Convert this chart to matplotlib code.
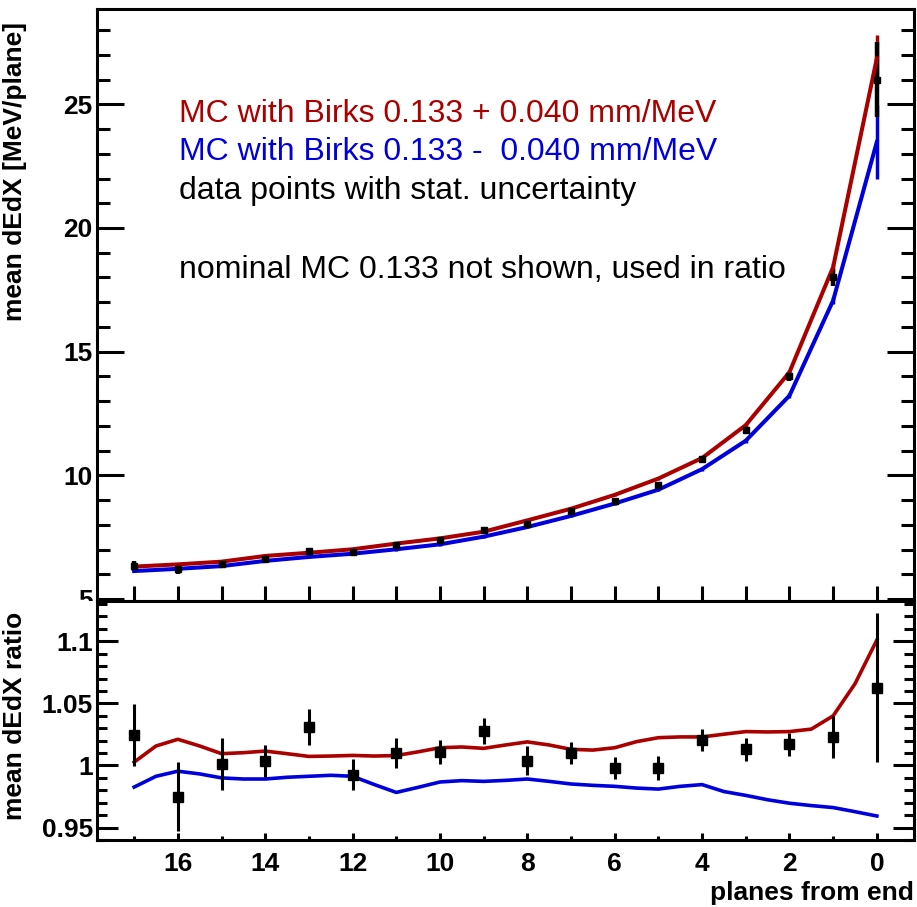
import numpy as np
import matplotlib.pyplot as plt
from matplotlib.ticker import MultipleLocator
from matplotlib.patches import Rectangle

plt.rcParams['font.family'] = ['Liberation Sans', 'DejaVu Sans']

# planes from end (top panel points)
planes = [17, 16, 15, 14, 13, 12, 11, 10, 9, 8, 7, 6, 5, 4, 3, 2, 1, 0]

# mean dEdX [MeV/plane]
mc_plus = [6.31, 6.40, 6.51, 6.74, 6.87, 7.01, 7.24, 7.45, 7.72, 8.18, 8.65, 9.21, 9.87, 10.70, 12.03, 14.17, 18.42, 26.86]
mc_plus_err = [0.05, 0.05, 0.05, 0.05, 0.05, 0.05, 0.05, 0.05, 0.05, 0.05, 0.05, 0.05, 0.06, 0.06, 0.08, 0.10, 0.15, 0.95]
mc_minus = [6.13, 6.22, 6.33, 6.54, 6.70, 6.83, 7.01, 7.21, 7.52, 7.91, 8.36, 8.86, 9.42, 10.25, 11.40, 13.22, 17.07, 23.48]
mc_minus_err = [0.05, 0.05, 0.05, 0.05, 0.05, 0.05, 0.05, 0.05, 0.05, 0.05, 0.05, 0.05, 0.06, 0.06, 0.08, 0.10, 0.15, 1.48]
data = [6.35, 6.22, 6.42, 6.62, 6.95, 6.88, 7.20, 7.40, 7.78, 8.05, 8.55, 8.98, 9.60, 10.68, 11.85, 14.00, 18.00, 26.00]
data_err = [0.20, 0.20, 0.15, 0.10, 0.12, 0.09, 0.09, 0.08, 0.09, 0.10, 0.09, 0.08, 0.10, 0.10, 0.11, 0.18, 0.35, 1.50]

# ratio panel: curves read every half plane
ratio_x = [17, 16.5, 16, 15.5, 15, 14.5, 14, 13.5, 13, 12.5, 12, 11.5, 11, 10.5, 10, 9.5, 9, 8.5,
           8, 7.5, 7, 6.5, 6, 5.5, 5, 4.5, 4, 3.5, 3, 2.5, 2, 1.5, 1, 0.5, 0]
ratio_plus = [1.0027, 1.0157, 1.0211, 1.0157, 1.0095, 1.0103, 1.0116, 1.0095, 1.0073, 1.0076, 1.0081, 1.0076,
              1.0080, 1.0110, 1.0143, 1.0149, 1.0138, 1.0165, 1.0190, 1.0165, 1.0130, 1.0124, 1.0143, 1.0192,
              1.0224, 1.0230, 1.0230, 1.0252, 1.0273, 1.0270, 1.0273, 1.0293, 1.0400, 1.0658, 1.1010]
ratio_minus = [0.9826, 0.9913, 0.9954, 0.9932, 0.9900, 0.9891, 0.9891, 0.9905, 0.9913, 0.9921, 0.9913, 0.9846,
               0.9783, 0.9824, 0.9867, 0.9878, 0.9872, 0.9880, 0.9891, 0.9872, 0.9851, 0.9840, 0.9832, 0.9818,
               0.9810, 0.9832, 0.9846, 0.9790, 0.9759, 0.9724, 0.9696, 0.9677, 0.9661, 0.9628, 0.9593]
data_ratio = [1.0244, 0.975, 1.0013, 1.0035, 1.031, 0.9927, 1.0102, 1.0108, 1.0279, 1.004, 1.0098, 0.998,
              0.998, 1.0206, 1.013, 1.017, 1.023, 1.0626]
data_ratio_err = [0.025, 0.028, 0.021, 0.013, 0.0145, 0.0125, 0.012, 0.010, 0.0105, 0.012, 0.009, 0.0087,
                  0.0095, 0.009, 0.009, 0.009, 0.017, 0.060]

top_yticks = [5, 10, 15, 20, 25]
ratio_yticks = [0.95, 1.0, 1.05, 1.1]
ratio_ylabels = ['0.95', '1', '1.05', '1.1']
xticks = [16, 14, 12, 10, 8, 6, 4, 2, 0]

red = '#aa0000'
blue = '#0000dd'

fig = plt.figure(figsize=(9.17, 9.07), dpi=100)
ax1 = fig.add_axes([0.1058, 0.3374, 0.8909, 0.6526])
ax2 = fig.add_axes([0.1058, 0.0739, 0.8909, 0.2635])
ax2.set_zorder(2)
# ratio pad covers the lower part of the figure, like in the original
fig.add_artist(Rectangle((0, 0), 1, 0.3374, transform=fig.transFigure,
                         facecolor='white', edgecolor='none', zorder=1))

# top panel
ax1.errorbar(planes, mc_plus, yerr=mc_plus_err, color=red, lw=2.9, elinewidth=2.5, capsize=0)
ax1.errorbar(planes, mc_minus, yerr=mc_minus_err, color=blue, lw=2.9, elinewidth=2.5, capsize=0)
ax1.errorbar(planes, data, yerr=data_err, fmt='s', ms=4, color='k', elinewidth=3.2, capsize=0)

ax1.set_xlim(17.85, -0.85)
ax1.set_ylim(4.92, 28.85)
ax1.set_yticks(top_yticks)
ax1.set_yticklabels([str(t) for t in top_yticks], fontsize=19, fontweight='bold')
ax1.yaxis.set_minor_locator(MultipleLocator(1))
ax1.xaxis.set_major_locator(MultipleLocator(2))
ax1.xaxis.set_minor_locator(MultipleLocator(1))
ax1.tick_params(axis='y', which='major', direction='in', length=19.4, width=2.2, left=True, right=True, pad=3)
ax1.tick_params(axis='y', which='minor', direction='in', length=9.4, width=2.2, left=True, right=True)
ax1.tick_params(axis='x', which='both', direction='in', length=10.8, width=2.2, labelbottom=False, top=False)
ax1.set_ylabel('mean dEdX [MeV/plane]', fontsize=19, fontweight='bold')
ax1.yaxis.set_label_coords(-0.0857, 0.725)

ax1.text(0.1, 0.8096, 'MC with Birks 0.133 + 0.040 mm/MeV', color=red, fontsize=23, va='baseline', transform=ax1.transAxes)
ax1.text(0.1, 0.745, 'MC with Birks 0.133 -  0.040 mm/MeV', color=blue, fontsize=23, va='baseline', transform=ax1.transAxes)
ax1.text(0.1, 0.679, 'data points with stat. uncertainty', color='k', fontsize=23, va='baseline', transform=ax1.transAxes)
ax1.text(0.1, 0.545, 'nominal MC 0.133 not shown, used in ratio', color='k', fontsize=23, va='baseline', transform=ax1.transAxes)

# ratio panel
ax2.plot(ratio_x, ratio_plus, color=red, lw=2.6)
ax2.plot(ratio_x, ratio_minus, color=blue, lw=2.6)
ax2.errorbar(planes, data_ratio, yerr=data_ratio_err, fmt='s', ms=7, color='k', elinewidth=2.2, capsize=0)

ax2.set_xlim(17.85, -0.85)
ax2.set_ylim(0.940, 1.1325)
ax2.set_yticks(ratio_yticks)
ax2.set_yticklabels(ratio_ylabels, fontsize=19, fontweight='bold')
ax2.yaxis.set_minor_locator(MultipleLocator(0.01))
ax2.set_xticks(xticks)
ax2.set_xticklabels([str(t) for t in xticks], fontsize=19, fontweight='bold')
ax2.xaxis.set_minor_locator(MultipleLocator(1))
ax2.tick_params(axis='y', which='major', direction='in', length=15, width=2.2, left=True, right=True, pad=3)
ax2.tick_params(axis='y', which='minor', direction='in', length=7, width=2.2, left=True, right=True)
ax2.tick_params(axis='x', which='major', direction='in', length=5, width=2.2, top=False, pad=9)
ax2.tick_params(axis='x', which='minor', direction='in', length=3, width=2.2, top=False)
ax2.set_ylabel('mean dEdX ratio', fontsize=19, fontweight='bold')
ax2.yaxis.set_label_coords(-0.0857, 0.519)

for ax in (ax1, ax2):
    for sp in ax.spines.values():
        sp.set_linewidth(2.2)

fig.text(0.997, 0.0154, 'planes from end', ha='right', va='center', fontsize=19, fontweight='bold')

fig.savefig('out.png', dpi=100)
